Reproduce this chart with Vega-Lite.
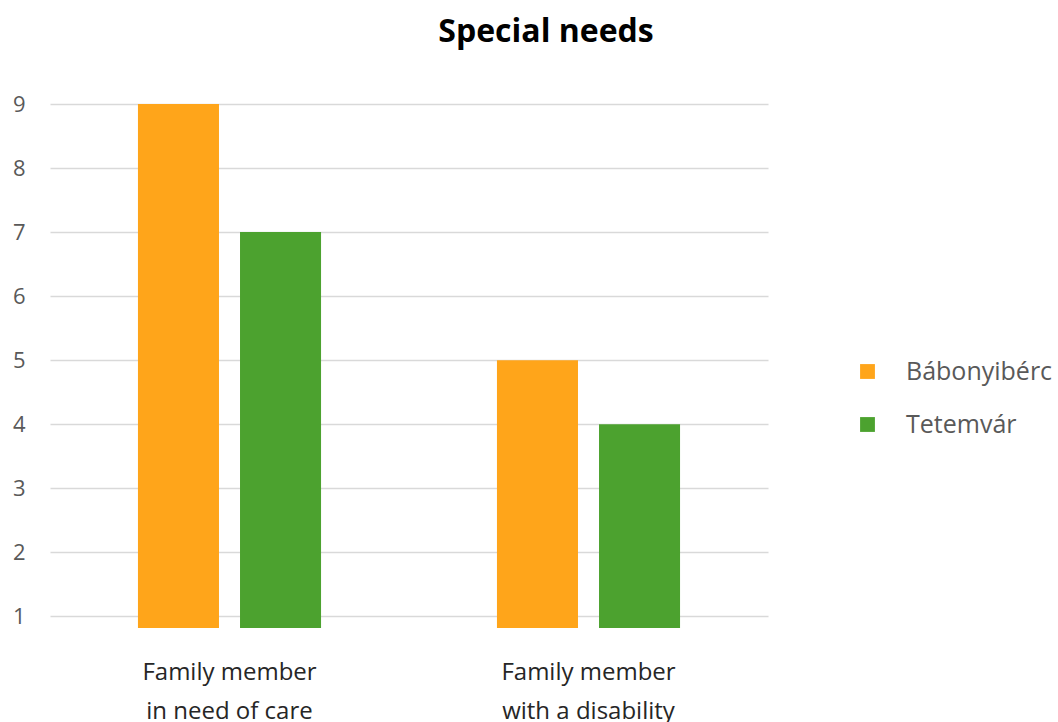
{
  "$schema": "https://vega.github.io/schema/vega-lite/v6.json",
  "width": 718,
  "height": 524,
  "autosize": {"type": "none"},
  "padding": {"left": 50, "top": 104, "right": 290, "bottom": 94},
  "background": "#ffffff",
  "title": {
    "text": "Special needs",
    "anchor": "middle",
    "frame": "group",
    "dx": 137,
    "offset": 44,
    "fontSize": 32,
    "font": "Open Sans",
    "fontWeight": "bold",
    "color": "#000000"
  },
  "data": {
    "values": [
      {"category": "Family member in need of care", "place": "Bábonyibérc", "value": 9},
      {"category": "Family member in need of care", "place": "Tetemvár", "value": 7},
      {"category": "Family member with a disability", "place": "Bábonyibérc", "value": 5},
      {"category": "Family member with a disability", "place": "Tetemvár", "value": 4}
    ]
  },
  "mark": {"type": "bar"},
  "encoding": {
    "x": {
      "field": "category",
      "type": "nominal",
      "sort": null,
      "scale": {"paddingInner": 0.49, "paddingOuter": 0.245},
      "axis": {
        "title": null,
        "labelAngle": 0,
        "domain": false,
        "ticks": false,
        "labelFont": "Open Sans",
        "labelFontSize": 24,
        "labelColor": "#262626",
        "labelPadding": 32,
        "labelLineHeight": 39,
        "labelExpr": "split(replace(datum.label, 'member ', 'member|'), '|')"
      }
    },
    "xOffset": {
      "field": "place",
      "type": "nominal",
      "sort": null,
      "scale": {"paddingInner": 0.206, "paddingOuter": 0}
    },
    "y": {
      "field": "value",
      "type": "quantitative",
      "scale": {"domain": [0.82, 9], "nice": false, "zero": false},
      "axis": {
        "title": null,
        "values": [1, 2, 3, 4, 5, 6, 7, 8, 9],
        "domain": false,
        "ticks": false,
        "grid": true,
        "gridColor": "#d9d9d9",
        "gridWidth": 1.5,
        "labelFont": "Open Sans",
        "labelFontSize": 22,
        "labelColor": "#595959",
        "labelPadding": 25
      }
    },
    "y2": {"datum": 0.82},
    "color": {
      "field": "place",
      "type": "nominal",
      "sort": null,
      "scale": {"domain": ["Bábonyibérc", "Tetemvár"], "range": ["#FFA51A", "#4CA22F"]},
      "legend": {
        "title": null,
        "orient": "none",
        "legendX": 805,
        "legendY": 255,
        "symbolType": "square",
        "symbolSize": 220,
        "labelFont": "Open Sans",
        "labelFontSize": 25,
        "labelColor": "#595959",
        "labelOffset": 26,
        "rowPadding": 27,
        "encode": {
          "symbols": {
            "update": {
              "fill": {"signal": "datum.value === 'Tetemvár' ? '#00B050' : '#FFA51A'"},
              "stroke": {"value": "transparent"},
              "opacity": {"value": 1}
            }
          }
        }
      }
    }
  },
  "config": {"view": {"stroke": null}}
}
